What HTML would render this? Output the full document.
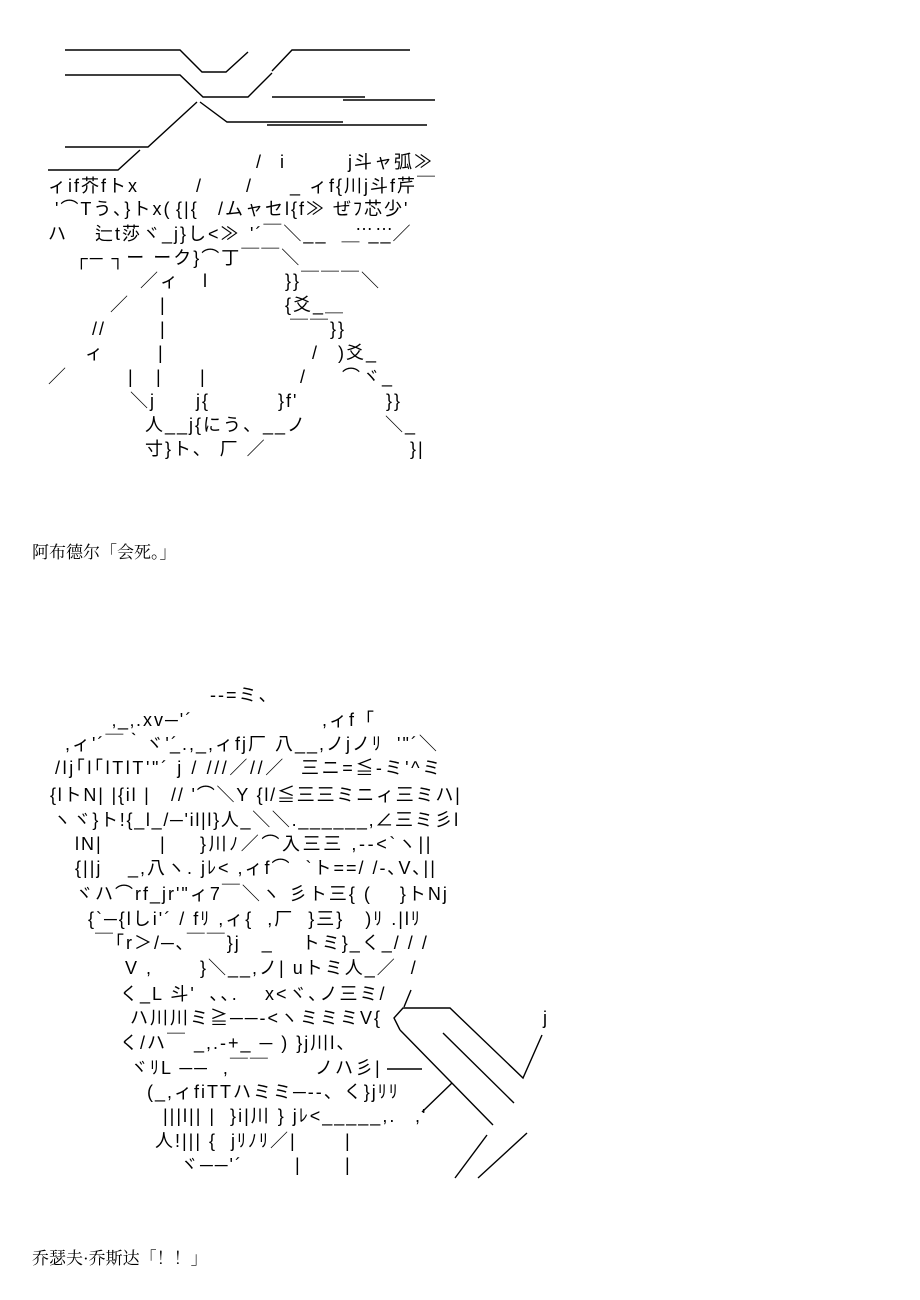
<!DOCTYPE html>
<html><head><meta charset="utf-8"><style>
html,body{margin:0;padding:0;background:#fff;}
body{width:920px;height:1300px;position:relative;overflow:hidden;}
.t{position:absolute;white-space:pre;font-family:"Liberation Sans","Noto Sans CJK JP",sans-serif;font-size:18px;letter-spacing:2px;line-height:22px;color:#000;}
.c{position:absolute;white-space:pre;font-family:"Liberation Serif","Noto Serif CJK SC",serif;font-size:17px;color:#000;}
svg{position:absolute;left:0;top:0;}
</style></head><body>
<svg width="920" height="1300" stroke="#000" stroke-width="1.4" fill="none">
<polyline points="65,50 180,50 202,72 226,72 248,52"/>
<polyline points="410,50 292,50 272,71"/>
<polyline points="65,75 180,75 203,97 248,97 272,73"/>
<line x1="272" y1="97" x2="365" y2="97"/>
<line x1="343" y1="100" x2="435" y2="100"/>
<polyline points="200,102 227,122 343,122"/>
<line x1="267" y1="125" x2="427" y2="125"/>
<polyline points="197,102 148,147 65,147"/>
<polyline points="140,150 118,170 48,170"/>
<line x1="411" y1="990" x2="404" y2="1007"/>
<polyline points="400,1030 394,1018 403,1008 450,1008 523,1078 542,1035"/>
<line x1="400" y1="1030" x2="493" y2="1125"/>
<line x1="443" y1="1033" x2="514" y2="1103"/>
<line x1="387" y1="1069" x2="422" y2="1069"/>
<line x1="452" y1="1083" x2="422" y2="1112"/>
<line x1="487" y1="1135" x2="455" y2="1178"/>
<line x1="527" y1="1133" x2="478" y2="1178"/>
</svg>
<div class="t" style="left:256px;top:151px">/</div>
<div class="t" style="left:280px;top:151px">i</div>
<div class="t" style="left:348px;top:151px">j斗ャ弧≫</div>
<div class="t" style="left:48px;top:175px">ィif芥fトx</div>
<div class="t" style="left:196px;top:175px">/</div>
<div class="t" style="left:246px;top:175px">/</div>
<div class="t" style="left:290px;top:175px">_ ィf{川j斗f芹￣</div>
<div class="t" style="left:55px;top:198px">'⌒Tう､}トx(</div>
<div class="t" style="left:176px;top:198px">{|{</div>
<div class="t" style="left:218px;top:198px">/ムャセl{f≫ ぜﾌ芯少'</div>
<div class="t" style="left:48px;top:223px">ハ</div>
<div class="t" style="left:95px;top:223px">辷t莎ヾ_j}し<≫</div>
<div class="t" style="left:250px;top:223px">'´￣＼__  ＿ __／</div>
<div class="t" style="left:355px;top:213px">……</div>
<div class="t" style="left:75px;top:247px">┌─ ┐ー ーク}⌒丁￣￣＼</div>
<div class="t" style="left:140px;top:270px">／ィ</div>
<div class="t" style="left:203px;top:270px">l</div>
<div class="t" style="left:285px;top:270px">}}￣￣￣＼</div>
<div class="t" style="left:110px;top:294px">／</div>
<div class="t" style="left:160px;top:294px">|</div>
<div class="t" style="left:285px;top:294px">{爻_＿</div>
<div class="t" style="left:92px;top:318px">//</div>
<div class="t" style="left:160px;top:318px">|</div>
<div class="t" style="left:290px;top:318px">￣￣}}</div>
<div class="t" style="left:85px;top:342px">ィ</div>
<div class="t" style="left:158px;top:342px">|</div>
<div class="t" style="left:312px;top:342px">/</div>
<div class="t" style="left:338px;top:342px">)爻_</div>
<div class="t" style="left:48px;top:366px">／</div>
<div class="t" style="left:128px;top:366px">|</div>
<div class="t" style="left:156px;top:366px">|</div>
<div class="t" style="left:200px;top:366px">|</div>
<div class="t" style="left:300px;top:366px">/</div>
<div class="t" style="left:342px;top:366px">⌒ヾ_</div>
<div class="t" style="left:130px;top:390px">＼j</div>
<div class="t" style="left:196px;top:390px">j{</div>
<div class="t" style="left:278px;top:390px">}f'</div>
<div class="t" style="left:386px;top:390px">}}</div>
<div class="t" style="left:145px;top:414px">人__j{にう、__ノ</div>
<div class="t" style="left:385px;top:414px">＼_</div>
<div class="t" style="left:145px;top:438px">寸}ト、 厂 ／</div>
<div class="t" style="left:410px;top:438px">}|</div>

<div class="c" style="left:32px;top:538px">阿布德尔「会死。」</div>

<div class="t" style="left:210px;top:684px">--=ミ、</div>
<div class="t" style="left:112px;top:709px">‚_‚.xv─'´</div>
<div class="t" style="left:322px;top:709px">,ィf「</div>
<div class="t" style="left:65px;top:733px">,ィ'´￣｀ヾ'´</div>
<div class="t" style="left:170px;top:733px">_.,_,ィfj厂 八__,ノjノﾘ  '"´＼</div>
<div class="t" style="left:55px;top:757px;letter-spacing:2.6px">/lj｢l｢lTlT'"´ j / ///／//／  三ニ=≦-ミ'^ミ</div>
<div class="t" style="left:50px;top:784px;letter-spacing:1.8px">{lトN| |{il |   // '⌒＼Y {l/≦三三ミニィ三ミハ|</div>
<div class="t" style="left:53px;top:809px;letter-spacing:1.7px">ヽヾ}ト!{_l_/─'il|l}人_＼＼.______,∠三ミ彡l</div>
<div class="t" style="left:75px;top:833px">lN|</div>
<div class="t" style="left:160px;top:833px">|</div>
<div class="t" style="left:200px;top:833px;letter-spacing:2.6px">}川ﾉ／⌒入三三 ,--<`ヽ||</div>
<div class="t" style="left:75px;top:857px">{||j</div>
<div class="t" style="left:128px;top:857px">_,八ヽ. jﾚ< ,ィf⌒  `ト==/ /-､V､||</div>
<div class="t" style="left:75px;top:883px">ヾハ⌒rf_jr'"ィ7￣＼ヽ 彡ト三{ (    }トNj</div>
<div class="t" style="left:88px;top:908px">{`─{lしi'´ / fﾘ ,ィ{  ,厂  }三}   )ﾘ .|lﾘ</div>
<div class="t" style="left:95px;top:932px">￣｢r＞/─､￣￣}j   _    トミ}_く_/ / /</div>
<div class="t" style="left:125px;top:957px">V ,</div>
<div class="t" style="left:200px;top:957px">}＼__,ノ| uトミ人_／  /</div>
<div class="t" style="left:120px;top:983px">く_L 斗'  ､､.</div>
<div class="t" style="left:265px;top:983px">x<ヾ､ノ三ミ/</div>
<div class="t" style="left:130px;top:1007px">ハ川川ミ≧──-<ヽミミミV{</div>
<div class="t" style="left:543px;top:1007px">j</div>
<div class="t" style="left:120px;top:1032px">く/ハ￣ _,.-+_ ─ ) }j川l、</div>
<div class="t" style="left:130px;top:1057px">ヾﾘL ──  ,￣￣</div>
<div class="t" style="left:315px;top:1057px">ノハ彡|</div>
<div class="t" style="left:147px;top:1081px">(_,ィfiTTハミミ─--、く}jﾘﾘ</div>
<div class="t" style="left:163px;top:1105px">|||l|| |  }i|川 } jﾚ<_____,.</div>
<div class="t" style="left:415px;top:1105px">,'</div>
<div class="t" style="left:155px;top:1130px">人!||| {  jﾘﾉﾘ／|</div>
<div class="t" style="left:345px;top:1130px">|</div>
<div class="t" style="left:180px;top:1154px">ヾ──'´</div>
<div class="t" style="left:295px;top:1154px">|</div>
<div class="t" style="left:345px;top:1154px">|</div>

<div class="c" style="left:32px;top:1244px">乔瑟夫·乔斯达「！！」</div>
</body></html>
